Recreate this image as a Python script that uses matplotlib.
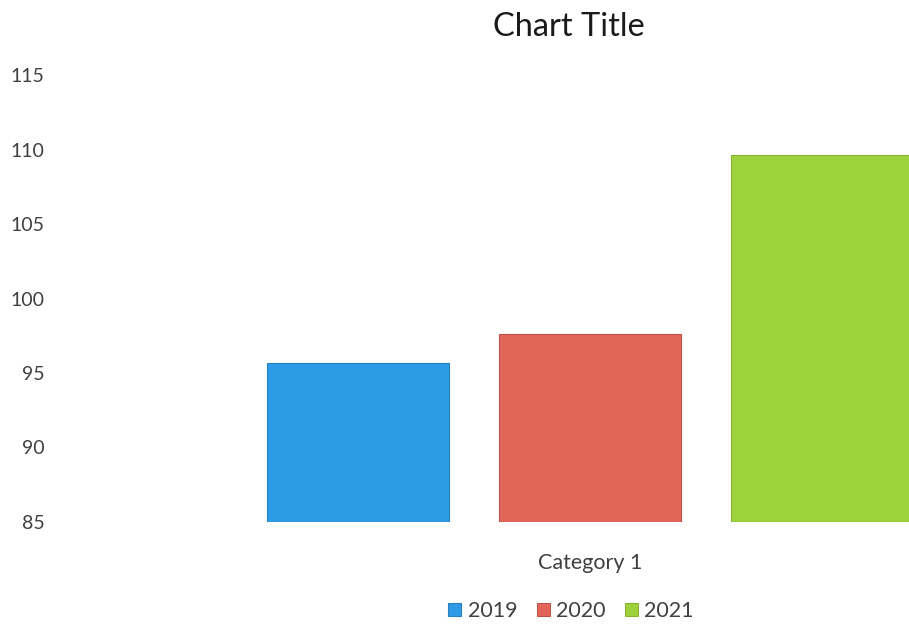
import matplotlib
matplotlib.use('Agg')
import matplotlib.pyplot as plt
import numpy as np

# Data
categories = ['Category 1']
series = ['2019', '2020', '2021']
values = [95.7, 97.6, 109.6]
colors = ['#2E9BE6', '#E2655A', '#9DD23C']
edges = ['#2A7FBF', '#B8544B', '#86B336']
y_ticks = [85, 90, 95, 100, 105, 110, 115]

TEXT = '#404040'
plt.rcParams['font.family'] = ['Lato', 'DejaVu Sans']

W, H = 909, 625
fig = plt.figure(figsize=(W / 100, H / 100), dpi=100, facecolor='white')

# plot area runs off the right edge of the picture (cropped scan)
left_px, right_px = 60, 1120
bottom_px, top_px = 625 - 522, 625 - 75
ax = fig.add_axes([left_px / W, bottom_px / H,
                   (right_px - left_px) / W, (top_px - bottom_px) / H])

x = np.arange(len(categories))
bar_w = 0.785
offsets = [-1, 0, 1]
for name, val, c, e, off in zip(series, values, colors, edges, offsets):
    ax.bar(x + off, np.array([val]) - 85, bottom=85, width=bar_w,
           color=c, edgecolor=e, linewidth=0.8, label=name)

ax.set_ylim(85, 115)
half = (right_px - left_px) / 2 / 232
ax.set_xlim(-half, half)
ax.set_yticks(y_ticks)
ax.set_yticklabels([str(t) for t in y_ticks], fontsize=14, color=TEXT)
ax.set_xticks(x)
ax.set_xticklabels(categories, fontsize=15.5, color=TEXT)
ax.tick_params(axis='y', length=0, pad=11)
ax.tick_params(axis='x', length=0, pad=22)
for s in ax.spines.values():
    s.set_visible(False)

fig.text(569 / W, 1 - 27 / H, 'Chart Title', fontsize=23.5, color='#1a1a1a',
         ha='center', va='center')

handles, labels = ax.get_legend_handles_labels()
leg = fig.legend(handles, labels, loc='center', ncol=3,
                 bbox_to_anchor=(571 / W, 1 - 611 / H), frameon=False,
                 fontsize=15.5, handlelength=0.6, handleheight=0.6,
                 handletextpad=0.3, columnspacing=0.9, labelcolor=TEXT)

fig.savefig('out.png', dpi=100, facecolor='white')
